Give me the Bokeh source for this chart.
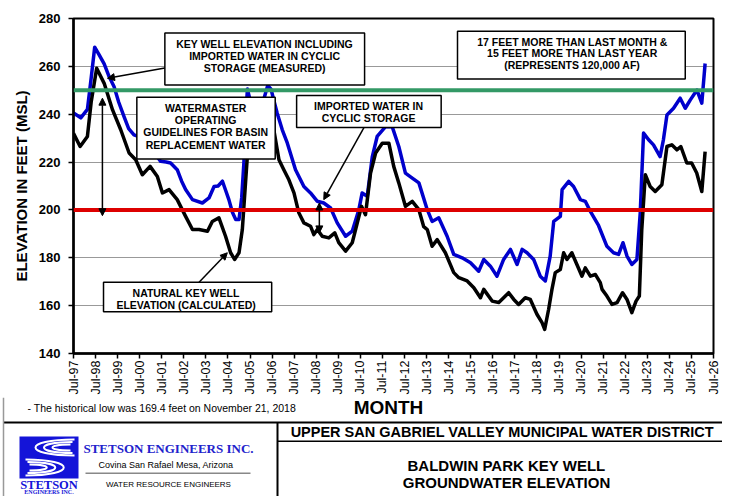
import numpy as np
from bokeh.plotting import figure
from bokeh.models import Range1d, FixedTicker, Span, BoxAnnotation, Label, Arrow, NormalHead
from bokeh.layouts import column
from bokeh.embed import file_html
from bokeh.resources import INLINE

# ---------------- data (decimal year, elevation ft MSL) ----------------
measured_year = [1997.5, 1997.83, 1998.13, 1998.3, 1998.46, 1998.65, 1998.89, 1999.1, 1999.34, 1999.55,
                 1999.79, 2000.0, 2000.24, 2000.5, 2000.8, 2001.15, 2001.45, 2001.7, 2001.9, 2002.2,
                 2002.4, 2002.58, 2002.89, 2003.34, 2003.64, 2003.87, 2004.05, 2004.25, 2004.4, 2004.54,
                 2004.7, 2004.85, 2005.0, 2005.12, 2005.22, 2005.3, 2005.38, 2005.5, 2005.8, 2006.1,
                 2006.3, 2006.45, 2006.6, 2006.73, 2006.96, 2007.19, 2007.56, 2007.94, 2008.24, 2008.55,
                 2008.84, 2009.15, 2009.45, 2009.83, 2010.13, 2010.43, 2010.58, 2010.81, 2011.04, 2011.26,
                 2011.64, 2011.94, 2012.24, 2012.54, 2012.85, 2013.15, 2013.53, 2013.75, 2014.05, 2014.43,
                 2014.73, 2015.11, 2015.49, 2015.86, 2016.09, 2016.39, 2016.69, 2016.99, 2017.3, 2017.6,
                 2017.83, 2018.05, 2018.35, 2018.65, 2018.88, 2019.1, 2019.26, 2019.56, 2019.64, 2019.94,
                 2020.16, 2020.47, 2020.69, 2020.92, 2021.29, 2021.67, 2021.97, 2022.2, 2022.4, 2022.58,
                 2022.8, 2023.03, 2023.18, 2023.33, 2023.56, 2023.78, 2024.08, 2024.23, 2024.39, 2024.69,
                 2024.99, 2025.22, 2025.45, 2025.75, 2025.97, 2026.12]
measured_elev = [240.5, 238.5, 242.0, 255.0, 268.0, 265.0, 261.0, 256.0, 251.5, 245.0,
                 239.0, 234.0, 231.4, 230.5, 228.0, 224.0, 220.3, 220.0, 219.6, 216.8,
                 212.0, 208.5, 204.3, 202.9, 205.0, 209.8, 210.0, 212.0, 208.0, 204.3,
                 199.0, 196.0, 196.0, 205.0, 219.6, 238.0, 250.5, 246.0, 243.0, 245.5,
                 252.0, 250.5, 245.0, 240.4, 233.5, 227.9, 216.8, 209.8, 207.1, 203.6,
                 202.9, 200.8, 194.6, 189.0, 191.1, 200.1, 207.1, 205.7, 222.3, 230.7,
                 234.8, 234.8, 226.5, 215.4, 213.3, 211.3, 200.1, 195.2, 196.7, 189.0,
                 181.4, 180.0, 177.9, 174.4, 179.3, 176.5, 172.3, 179.3, 183.5, 177.2,
                 183.5, 182.1, 179.3, 172.3, 170.3, 180.7, 195.2, 197.3, 208.5, 211.9,
                 209.8, 204.3, 203.6, 199.4, 193.5, 184.8, 182.1, 181.4, 186.3, 180.7,
                 177.2, 179.3, 198.8, 232.1, 229.3, 227.2, 222.3, 229.3, 239.7, 242.5,
                 246.7, 242.5, 246.0, 250.1, 244.6, 261.2]

natural_year = [1997.5, 1997.8, 1998.13, 1998.3, 1998.55, 1998.89, 1999.27, 1999.64, 2000.02, 2000.32,
                2000.62, 2000.97, 2001.3, 2001.53, 2001.83, 2002.2, 2002.58, 2002.89, 2003.19, 2003.57,
                2003.79, 2004.09, 2004.39, 2004.62, 2004.8, 2005.0, 2005.15, 2005.3, 2005.45, 2005.7,
                2006.0, 2006.3, 2006.55, 2006.81, 2007.03, 2007.26, 2007.49, 2007.71, 2007.94, 2008.24,
                2008.39, 2008.55, 2008.77, 2009.07, 2009.34, 2009.52, 2009.83, 2010.13, 2010.36, 2010.55,
                2010.73, 2010.96, 2011.19, 2011.49, 2011.79, 2012.01, 2012.24, 2012.54, 2012.85, 2013.15,
                2013.37, 2013.53, 2013.75, 2013.98, 2014.35, 2014.73, 2014.96, 2015.34, 2015.64, 2015.94,
                2016.09, 2016.47, 2016.77, 2016.99, 2017.22, 2017.45, 2017.67, 2017.97, 2018.2, 2018.5,
                2018.73, 2018.85, 2019.03, 2019.18, 2019.33, 2019.56, 2019.71, 2019.86, 2020.08, 2020.31,
                2020.54, 2020.69, 2020.92, 2021.15, 2021.37, 2021.45, 2021.67, 2021.9, 2022.13, 2022.38,
                2022.58, 2022.8, 2022.99, 2023.14, 2023.25, 2023.41, 2023.63, 2023.86, 2024.16, 2024.39,
                2024.61, 2024.84, 2025.02, 2025.29, 2025.51, 2025.74, 2025.97, 2026.12]
natural_elev = [232.0, 226.5, 230.7, 245.0, 259.2, 252.9, 241.8, 233.5, 223.8, 221.0,
                214.7, 218.2, 214.0, 207.1, 208.5, 204.3, 197.3, 191.8, 191.8, 191.1,
                195.2, 196.7, 189.0, 182.1, 179.3, 182.1, 191.8, 212.0, 232.0, 238.0,
                240.0, 242.0, 235.0, 221.0, 216.8, 212.6, 207.1, 198.8, 194.6, 193.2,
                189.7, 191.8, 189.0, 188.3, 190.4, 186.3, 182.8, 186.3, 194.6, 201.5,
                198.0, 215.4, 223.8, 227.9, 227.9, 218.2, 211.3, 201.5, 203.6, 200.1,
                193.0, 191.8, 184.8, 187.6, 182.1, 173.8, 171.7, 170.3, 167.5, 163.3,
                166.8, 161.9, 161.3, 163.3, 165.4, 162.6, 160.5, 163.3, 162.6, 156.4,
                152.9, 150.1, 158.5, 166.8, 173.8, 175.1, 182.1, 179.3, 182.1, 177.2,
                172.3, 175.8, 172.3, 173.0, 169.6, 166.8, 164.0, 160.5, 161.3, 165.4,
                162.6, 157.1, 161.9, 164.0, 191.8, 214.7, 209.8, 207.7, 210.5, 226.5,
                227.2, 225.1, 226.5, 219.6, 219.6, 215.4, 207.7, 224.4]

tick_years = [1997.5, 1998.5, 1999.5, 2000.5, 2001.5, 2002.5, 2003.5, 2004.5, 2005.5, 2006.5,
              2007.5, 2008.5, 2009.5, 2010.5, 2011.5, 2012.5, 2013.5, 2014.5, 2015.5, 2016.5,
              2017.5, 2018.5, 2019.5, 2020.5, 2021.5, 2022.5, 2023.5, 2024.5, 2025.5, 2026.5]
tick_labels = ["Jul-97", "Jul-98", "Jul-99", "Jul-00", "Jul-01", "Jul-02", "Jul-03", "Jul-04",
               "Jul-05", "Jul-06", "Jul-07", "Jul-08", "Jul-09", "Jul-10", "Jul-11", "Jul-12",
               "Jul-13", "Jul-14", "Jul-15", "Jul-16", "Jul-17", "Jul-18", "Jul-19", "Jul-20",
               "Jul-21", "Jul-22", "Jul-23", "Jul-24", "Jul-25", "Jul-26"]
elev_ticks = [140, 160, 180, 200, 220, 240, 260, 280]
guideline_upper = 250
guideline_lower = 200

FONT = "Liberation Sans"
SERIF = "Liberation Serif"

# ---------------- main chart ----------------
p = figure(width=722, height=397, x_range=Range1d(1997.5, 2026.5), y_range=Range1d(140, 280),
           output_backend="svg", toolbar_location=None,
           min_border_left=73, min_border_right=9, min_border_top=18, min_border_bottom=43)
p.frame_align = False
p.background_fill_color = "white"
p.border_fill_color = "white"
p.outline_line_color = "black"
p.outline_line_width = 2

p.xgrid.visible = False
p.ygrid.grid_line_color = "#333333"
p.ygrid.grid_line_dash = "1 1"
p.ygrid.grid_line_width = 1

p.yaxis.ticker = FixedTicker(ticks=elev_ticks)
p.xaxis.ticker = FixedTicker(ticks=tick_years)
p.xaxis.major_label_overrides = {t: l for t, l in zip(tick_years, tick_labels)}
p.xaxis.major_label_orientation = float(np.pi / 2)

for ax in (p.xaxis, p.yaxis):
    ax.axis_line_color = "black"
    ax.axis_line_width = 2.5
    ax.major_tick_line_color = "black"
    ax.major_tick_line_width = 1.5
    ax.major_tick_out = 5
    ax.major_tick_in = 0
    ax.minor_tick_line_color = None
    ax.major_label_text_color = "black"
    ax.major_label_text_font = FONT
    ax.axis_label_text_font = FONT
    ax.axis_label_text_font_style = "bold"
    ax.axis_label_text_color = "black"

p.yaxis.major_label_text_font_size = "13px"
p.yaxis.major_label_text_font_style = "bold"
p.yaxis.major_label_standoff = 8
p.yaxis.axis_label = "ELEVATION IN FEET (MSL)"
p.yaxis.axis_label_text_font_size = "15px"
p.yaxis.axis_label_standoff = 6

p.xaxis.major_label_text_font_size = "12.5px"
p.xaxis.major_label_standoff = 2

p.line(measured_year, measured_elev, line_color="#0000CC", line_width=3.5, line_join="round")
p.line(natural_year, natural_elev, line_color="black", line_width=3.5, line_join="round")

p.add_layout(Span(location=guideline_upper, dimension="width", line_color="#339966", line_width=4))
p.add_layout(Span(location=guideline_lower, dimension="width", line_color="#DD0000", line_width=4))


def text_box(left, right, bottom, top, cx, lines):
    p.add_layout(BoxAnnotation(left=left, right=right, bottom=bottom, top=top,
                               fill_color="white", fill_alpha=1, line_color="black",
                               line_width=1.5, line_alpha=1))
    for txt, yy in lines:
        p.add_layout(Label(x=cx, y=yy, text=txt, text_align="center", text_baseline="middle",
                           text_font=FONT, text_font_style="bold", text_font_size="10.5px",
                           text_color="black"))


def arrow(x0, y0, x1, y1, both=False):
    end = NormalHead(size=7, fill_color="black", line_color="black")
    start = NormalHead(size=7, fill_color="black", line_color="black") if both else None
    p.add_layout(Arrow(start=start, end=end, x_start=x0, y_start=y0, x_end=x1, y_end=y1,
                       line_color="black", line_width=1.5))


text_box(2001.64, 2010.69, 252.2, 273.9, 2006.16,
         [("KEY WELL ELEVATION INCLUDING", 269.2), ("IMPORTED WATER IN CYCLIC", 264.3),
          ("STORAGE (MEASURED)", 259.2)])
text_box(2014.9, 2025.22, 254.7, 274.7, 2020.1,
         [("17 FEET MORE THAN LAST MONTH &", 270.2), ("15 FEET MORE THAN LAST YEAR", 265.4),
          ("(REPRESENTS 120,000 AF)", 260.5)])
text_box(2000.37, 2006.64, 221.25, 247.1, 2003.49,
         [("WATERMASTER", 242.5), ("OPERATING", 237.6), ("GUIDELINES FOR BASIN", 232.5),
          ("REPLACEMENT WATER", 227.2)])
text_box(2007.61, 2014.16, 234.4, 247.8, 2010.87,
         [("IMPORTED WATER IN", 243.6), ("CYCLIC STORAGE", 238.6)])
text_box(1998.86, 2006.48, 157.5, 169.8, 2002.67,
         [("NATURAL  KEY WELL", 165.4), ("ELEVATION  (CALCULATED)", 160.25)])

arrow(2001.64, 259.3, 1999.04, 255.0)
arrow(1998.81, 197.6, 1998.81, 246.7, both=True)
arrow(2010.66, 234.4, 2008.84, 204.3)
arrow(2008.64, 190.4, 2008.64, 202.9, both=True)
arrow(2003.19, 169.8, 2004.47, 182.1)

# ---------------- axis title, note and title block (page pixel coordinates) ----------------
b = figure(width=722, height=99, x_range=Range1d(0, 722), y_range=Range1d(496, 397),
           output_backend="svg", toolbar_location=None, x_axis_type=None, y_axis_type=None,
           min_border_left=0, min_border_right=0, min_border_top=0, min_border_bottom=0)
b.frame_align = False
b.outline_line_color = None
b.background_fill_color = "white"
b.border_fill_color = "white"
b.xgrid.visible = False
b.ygrid.visible = False

b.add_layout(Label(x=388, y=407, text="MONTH", text_align="center", text_baseline="middle",
                   text_font=FONT, text_font_style="bold", text_font_size="19px", text_color="black"))
b.add_layout(Label(x=27, y=407.5, text="- The historical low was 169.4 feet on November 21, 2018",
                   text_align="left", text_baseline="middle", text_font=FONT,
                   text_font_size="10.5px", text_color="black"))

b.segment(x0=[3, 277, 277], y0=[422, 422, 440.7], x1=[722, 277, 722], y1=[422, 496, 440.7],
          line_color="black", line_width=[2, 2, 1.5])
b.segment(x0=[3], y0=[397], x1=[3], y1=[496], line_color="#999999", line_width=1.5)
b.segment(x0=[85], y0=[472.7], x1=[250], y1=[472.7], line_color="#888888", line_width=1.5)

# logo
b.quad(left=[19], right=[78], top=[436], bottom=[478], fill_color="#1414D8", line_color=None)
b.bezier(x0=[74, 72, 70, 25, 27, 29], y0=[439, 441.5, 444, 459, 461.5, 464],
         x1=[74, 72, 70, 25, 27, 29], y1=[455, 452.5, 450, 475, 472.5, 470],
         cx0=[22, 34, 46, 76, 64, 52], cy0=[439, 441.5, 444, 459, 461.5, 464],
         cx1=[22, 34, 46, 76, 64, 52], cy1=[455, 452.5, 450, 475, 472.5, 470],
         line_color="white", line_width=2)
b.add_layout(Label(x=48.5, y=484.5, text="STETSON", text_align="center", text_baseline="middle",
                   text_font=SERIF, text_font_style="bold", text_font_size="12.5px", text_color="#1414D8"))
b.add_layout(Label(x=48.5, y=491.5, text="ENGINEERS INC.", text_align="center", text_baseline="middle",
                   text_font=SERIF, text_font_style="bold", text_font_size="6px", text_color="#1414D8"))

b.add_layout(Label(x=168, y=448, text="STETSON ENGINEERS INC.", text_align="center", text_baseline="middle",
                   text_font=SERIF, text_font_style="bold", text_font_size="13px", text_color="#2222CC"))
b.add_layout(Label(x=168, y=464.3, text="Covina  San Rafael  Mesa, Arizona", text_align="center",
                   text_baseline="middle", text_font=FONT, text_font_size="9px", text_color="black"))
b.add_layout(Label(x=168, y=484, text="WATER RESOURCE ENGINEERS", text_align="center",
                   text_baseline="middle", text_font=FONT, text_font_size="8px", text_color="black"))

b.add_layout(Label(x=502, y=431.5, text="UPPER SAN GABRIEL VALLEY MUNICIPAL WATER DISTRICT",
                   text_align="center", text_baseline="middle", text_font=FONT, text_font_style="bold",
                   text_font_size="14.5px", text_color="black"))
b.add_layout(Label(x=506, y=465, text="BALDWIN PARK KEY WELL", text_align="center",
                   text_baseline="middle", text_font=FONT, text_font_style="bold",
                   text_font_size="15px", text_color="black"))
b.add_layout(Label(x=506, y=481.7, text="GROUNDWATER ELEVATION", text_align="center",
                   text_baseline="middle", text_font=FONT, text_font_style="bold",
                   text_font_size="15px", text_color="black"))

layout = column(p, b, spacing=0)
open("out.html", "w").write(file_html(layout, INLINE))
